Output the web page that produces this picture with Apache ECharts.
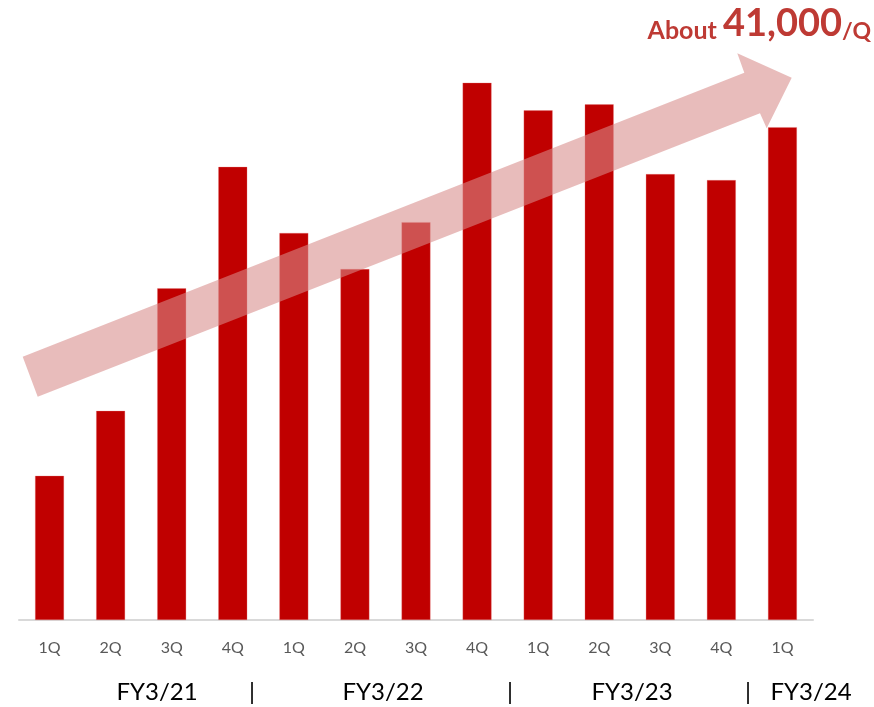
<!DOCTYPE html>
<html>
<head>
<meta charset="utf-8">
<script src="https://cdn.jsdelivr.net/npm/echarts@6/dist/echarts.min.js"></script>
<style>html,body{margin:0;padding:0;background:#fff;}#c{width:874px;height:707px;}</style>
</head>
<body>
<div id="c"></div>
<script>
const categories = ['1Q','2Q','3Q','4Q','1Q','2Q','3Q','4Q','1Q','2Q','3Q','4Q','1Q'];
const values = [12000,17400,27600,37700,32200,29200,33100,44700,42400,42900,37100,36600,41000];
const fiscalLabels = ['FY3/21','FY3/22','FY3/23','FY3/24'];
const separatorLabel = '|';
const annotationParts = ['About ','41,000','/Q'];

const chart = echarts.init(document.getElementById('c'));
const fyX = [157, 383, 632, 811];
const sepX = [252, 510, 748];
const graphics = [];
fiscalLabels.forEach((t,i)=>graphics.push({type:'text', x:fyX[i], y:692, z:50,
  style:{text:t, font:'24px Lato', fill:'#000', align:'center', verticalAlign:'middle'}}));
sepX.forEach(x=>graphics.push({type:'text', x:x, y:692, z:50,
  style:{text:separatorLabel, font:'24px Lato', fill:'#000', align:'center', verticalAlign:'middle'}}));
graphics.push({type:'polygon', z:100, shape:{points:[[37.7,396.7],[22.7,356.7],[744.3,72.7],[737.3,53.3],[791.7,77.7],[766.7,128.3],[760,113.3]]},
  style:{fill:'rgba(215,139,137,0.58)'}});
graphics.push({type:'text', x:871, y:43, z:100, style:{
  text:'{a|'+annotationParts[0]+'}{b|'+annotationParts[1]+'}{c|'+annotationParts[2]+'}',
  align:'right', verticalAlign:'bottom',
  rich:{
    a:{fontFamily:'Lato', fontWeight:'bold', fontSize:25, fill:'#BE3A34', verticalAlign:'bottom'},
    b:{fontFamily:'Lato', fontWeight:'bold', fontSize:38, fill:'#BE3A34', verticalAlign:'bottom'},
    c:{fontFamily:'Lato', fontWeight:'bold', fontSize:23, fill:'#BE3A34', verticalAlign:'bottom'}
  }}});

chart.setOption({
  animation:false,
  grid:{left:19, width:794, top:19, bottom:87, containLabel:false},
  xAxis:{type:'category', data:categories,
    axisLine:{show:true, lineStyle:{color:'#D9D9D9', width:2}},
    axisTick:{show:false},
    axisLabel:{color:'#595959', fontFamily:'Lato', fontSize:16, margin:20}},
  yAxis:{type:'value', min:0, max:50000, show:false, splitLine:{show:false}},
  series:[{type:'bar', data:values, barWidth:29,
    itemStyle:{color:'#C00000', borderColor:'rgba(230,120,120,0.6)', borderWidth:0.5}}],
  graphic:graphics
});
</script>
</body>
</html>
